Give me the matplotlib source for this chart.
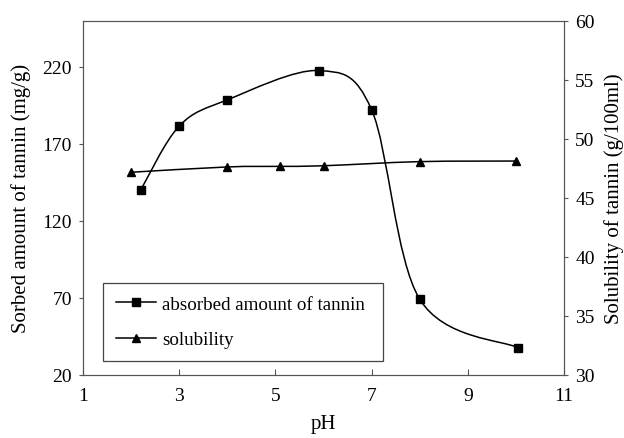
import numpy as np
import matplotlib.pyplot as plt
from matplotlib.path import Path
from matplotlib.patches import PathPatch
from matplotlib.lines import Line2D

plt.rcParams['font.family'] = ['Liberation Serif', 'DejaVu Serif']

ph_sorb = [2.2, 3.0, 4.0, 5.9, 7.0, 8.0, 10.05]
sorbed = [140, 181.5, 198.5, 217.5, 192, 69, 37.5]

ph_sol = [2.0, 4.0, 5.1, 6.0, 8.0, 10.0]
solubility = [47.15, 47.6, 47.65, 47.7, 48.05, 48.1]


def smooth_path(x, y):
    # excel-like smoothed line: cubic bezier through every point
    p = np.column_stack([x, y]).astype(float)
    ext = np.vstack([p[0], p, p[-1]])
    verts = [p[0]]
    codes = [Path.MOVETO]
    for i in range(len(p) - 1):
        c1 = ext[i + 1] + (ext[i + 2] - ext[i]) / 6
        c2 = ext[i + 2] - (ext[i + 3] - ext[i + 1]) / 6
        verts += [c1, c2, p[i + 1]]
        codes += [Path.CURVE4] * 3
    return Path(verts, codes)


fig = plt.figure(figsize=(6.24, 4.39), dpi=100)
ax = fig.add_axes([0.133, 0.144, 0.771, 0.807])
ax2 = ax.twinx()

ax.add_patch(PathPatch(smooth_path(ph_sorb, sorbed), fill=False, color='black', lw=1.1))
ax.plot(ph_sorb, sorbed, 's', color='black', ms=5.5)

ax2.add_patch(PathPatch(smooth_path(ph_sol, solubility), fill=False, color='black', lw=1.1))
ax2.plot(ph_sol, solubility, '^', color='black', ms=6)

ax.set_xlim(1, 11)
ax.set_ylim(20, 250)
ax2.set_ylim(30, 60)
ax.set_xticks([1, 3, 5, 7, 9, 11])
ax.set_yticks([20, 70, 120, 170, 220])
ax2.set_yticks([30, 35, 40, 45, 50, 55, 60])

ax.tick_params(axis='x', direction='in', length=4, labelsize=14, pad=9, color='#555555')
ax.tick_params(axis='y', direction='out', length=3, labelsize=14, pad=5, color='#555555')
ax2.tick_params(axis='y', direction='out', length=3, labelsize=14, pad=5, color='#555555')
for a in (ax, ax2):
    for s in a.spines.values():
        s.set_color('#555555')

ax.set_xlabel('pH', fontsize=15, labelpad=7)
ax.set_ylabel('Sorbed amount of tannin (mg/g)', fontsize=15, labelpad=8)
ax2.set_ylabel('Solubility of tannin (g/100ml)', fontsize=15, labelpad=7)

handles = [
    Line2D([], [], color='black', marker='s', ms=5.5, lw=1.1),
    Line2D([], [], color='black', marker='^', ms=6, lw=1.1),
]
leg = ax.legend(handles, ['absorbed amount of tannin', 'solubility'],
                loc='lower left', bbox_to_anchor=(0.042, 0.04, 0.582, 0.2),
                mode='expand', fontsize=13.7,
                fancybox=False, framealpha=1, edgecolor='#444444',
                handlelength=2.1, handletextpad=0.35, borderpad=0.65,
                labelspacing=0.95, borderaxespad=0)
leg.get_frame().set_linewidth(0.9)

fig.savefig('out.png', dpi=100)
